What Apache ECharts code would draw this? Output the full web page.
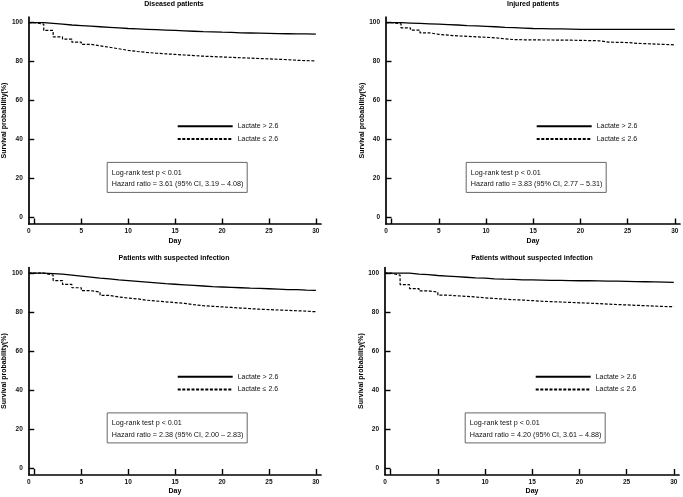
<!DOCTYPE html>
<html>
<head>
<meta charset="utf-8">
<script src="https://cdn.jsdelivr.net/npm/echarts@6/dist/echarts.min.js"></script>
<style>
html,body{margin:0;padding:0;background:#fff;}
#chart{width:683px;height:497px;}
</style>
</head>
<body>
<div id="chart"></div>
<script>
// ---- data ----
const panelTitles = ['Diseased patients', 'Injured patients', 'Patients with suspected infection', 'Patients without suspected infection'];
const seriesNames = ['Lactate > 2.6', 'Lactate \u2264 2.6'];
const days = [0,1,2,3,4,5,6,7,8,9,10,11,12,13,14,15,16,17,18,19,20,21,22,23,24,25,26,27,28,29,30];
const startDay = -0.6;      // curves begin at the left edge of the axis
const startSurvival = 100;

const diseasedHigh = [100,99.6,99.2,98.8,98.5,98.2,97.9,97.6,97.3,97.0,96.8,96.6,96.4,96.2,96.0,95.8,95.6,95.4,95.3,95.1,95.0,94.8,94.7,94.6,94.5,94.4,94.3,94.2,94.2,94.1,94.1];
const diseasedLow  = [99.2,96.0,92.7,91.6,90.0,88.9,88.1,87.4,86.6,85.8,85.2,84.7,84.3,84.0,83.7,83.4,83.1,82.8,82.6,82.4,82.2,82.0,81.8,81.6,81.4,81.2,81.0,80.7,80.5,80.4,80.3];
const injuredHigh  = [100,99.8,99.6,99.4,99.2,99.0,98.8,98.5,98.3,98.1,97.9,97.6,97.4,97.2,97.0,96.9,96.8,96.8,96.7,96.6,96.6,96.6,96.6,96.6,96.6,96.6,96.6,96.6,96.6,96.6,96.6];
const injuredLow   = [99.4,97.3,96.2,94.8,94.0,93.6,93.2,93.0,92.7,92.5,92.2,91.7,91.3,91.2,91.2,91.1,91.1,91.0,91.0,90.9,90.8,90.7,90.0,89.9,89.8,89.4,89.2,89.0,88.8,88.6,88.5];
const infectHigh   = [100,99.8,99.5,99.0,98.5,98.0,97.5,97.1,96.6,96.2,95.8,95.4,95.0,94.6,94.3,94.0,93.7,93.4,93.1,92.9,92.7,92.5,92.3,92.2,92.0,91.8,91.6,91.5,91.3,91.2,91.1];
const infectLow    = [100,99.0,96.2,94.2,92.5,91.0,90.3,88.6,87.8,87.2,86.8,86.1,85.7,85.3,84.9,84.5,83.8,83.3,83.0,82.7,82.4,82.1,81.8,81.5,81.3,81.1,80.9,80.7,80.5,80.2,80.0];
const noInfectHigh = [100,100,99.5,99.2,98.8,98.5,98.2,97.9,97.6,97.4,97.1,96.9,96.8,96.6,96.5,96.4,96.3,96.3,96.2,96.1,96.1,96.0,95.9,95.9,95.8,95.7,95.6,95.5,95.4,95.3,95.3];
const noInfectLow  = [99.0,94.1,92.1,90.9,90.3,88.7,88.4,88.1,87.8,87.3,87.0,86.7,86.4,86.2,85.9,85.6,85.4,85.2,85.0,84.8,84.6,84.4,84.1,83.9,83.7,83.5,83.3,83.1,82.9,82.8,82.7];
const highSeries = [diseasedHigh, injuredHigh, infectHigh, noInfectHigh];
const lowSeries  = [diseasedLow, injuredLow, infectLow, noInfectLow];

const logRankTexts = ['Log-rank test p < 0.01','Log-rank test p < 0.01','Log-rank test p < 0.01','Log-rank test p < 0.01'];
const hazardTexts = [
  'Hazard ratio = 3.61 (95% CI, 3.19 \u2013 4.08)',
  'Hazard ratio = 3.83 (95% CI, 2.77 \u2013 5.31)',
  'Hazard ratio = 2.38 (95% CI, 2.00 \u2013 2.83)',
  'Hazard ratio = 4.20 (95% CI, 3.61 \u2013 4.88)'
];
const xTicks = [0,5,10,15,20,25,30];
const yTicks = [0,20,40,60,80,100];
const xAxisName = 'Day';
const yAxisName = 'Survival probability(%)';

// ---- layout ----
const xMin = startDay, xMax = 30.55, yMin = -3.3, yMax = 102.9;
const gridPos = [
  {left: 27, top: 17},
  {left: 386, top: 17},
  {left: 27, top: 267.5},
  {left: 385, top: 267.5}
];
const gridW = 294, gridH = 207;
const titleTops = [1, 1, 255, 255];
const font = 'Arial, "Liberation Sans", Helvetica, sans-serif';

function kmData(vals) {
  const out = [[startDay, startSurvival]];
  days.forEach((d, i) => out.push([d, vals[i]]));
  return out;
}

const option = {
  animation: false,
  backgroundColor: '#fff',
  textStyle: {fontFamily: font},
  grid: [], xAxis: [], yAxis: [], series: [], title: [], legend: []
};

gridPos.forEach((g, p) => {
  option.grid.push({left: g.left, top: g.top, width: gridW, height: gridH, containLabel: false});
  option.xAxis.push({
    type: 'value', gridIndex: p, min: xMin, max: xMax,
    name: xAxisName, nameLocation: 'middle', nameGap: 13.5,
    nameTextStyle: {fontSize: 7, fontWeight: 'bold', color: '#000', fontFamily: font},
    axisLine: {show: true, onZero: false, lineStyle: {color: '#000', width: 1.7}},
    axisTick: {show: true, inside: true, length: 5.5, lineStyle: {color: '#000', width: 1.4}, customValues: xTicks},
    axisLabel: {show: true, fontSize: 6.5, fontWeight: 'bold', color: '#111', margin: 4, fontFamily: font,
      customValues: [xMin].concat(xTicks.slice(1)),
      formatter: v => (v < xTicks[0] ? String(xTicks[0]) : String(Math.round(v)))},
    splitLine: {show: false}
  });
  option.yAxis.push({
    type: 'value', gridIndex: p, min: yMin, max: yMax,
    name: yAxisName, nameLocation: 'middle', nameGap: 15, nameRotate: 90,
    nameTextStyle: {fontSize: 7, fontWeight: 'bold', color: '#000', fontFamily: font},
    axisLine: {show: true, onZero: false, lineStyle: {color: '#000', width: 1.7}},
    axisTick: {show: true, inside: true, length: 5.5, lineStyle: {color: '#000', width: 1.4}, customValues: yTicks},
    axisLabel: {show: true, fontSize: 6.5, fontWeight: 'bold', color: '#111', margin: 6, fontFamily: font, customValues: yTicks},
    splitLine: {show: false}
  });
  option.series.push({
    name: seriesNames[0], type: 'line', xAxisIndex: p, yAxisIndex: p,
    data: kmData(highSeries[p]), step: 'end', symbol: 'none', showSymbol: false,
    lineStyle: {color: '#000', width: 1.3, type: 'solid'}, itemStyle: {color: '#000'}
  });
  option.series.push({
    name: seriesNames[1], type: 'line', xAxisIndex: p, yAxisIndex: p,
    data: kmData(lowSeries[p]), step: 'end', symbol: 'none', showSymbol: false,
    lineStyle: {color: '#000', width: 1.2, type: [3, 1.6]}, itemStyle: {color: '#000'}
  });
  option.title.push({
    text: panelTitles[p], left: g.left + gridW / 2, top: titleTops[p], textAlign: 'center', padding: 0,
    textStyle: {fontSize: 7, fontWeight: 'bold', color: '#000', fontFamily: font}
  });
  option.title.push({
    text: logRankTexts[p] + '\n' + hazardTexts[p],
    left: g.left + 80.3, top: g.top + 145.3,
    padding: [4.6, 4, 2.6, 4.4], borderColor: '#666', borderWidth: 1,
    textStyle: {fontSize: 7.2, fontWeight: 'normal', color: '#111', lineHeight: 11.6, fontFamily: font}
  });
  option.legend.push({
    orient: 'vertical', left: g.left + 149.7, top: g.top + 105.7, padding: 0,
    itemWidth: 55, itemHeight: 8, itemGap: 5.8, selectedMode: false,
    itemStyle: {opacity: 0},
    data: seriesNames,
    textStyle: {fontSize: 7, color: '#111', fontFamily: font}
  });
});

const chart = echarts.init(document.getElementById('chart'), null, {renderer: 'canvas'});
chart.setOption(option);
</script>
</body>
</html>
